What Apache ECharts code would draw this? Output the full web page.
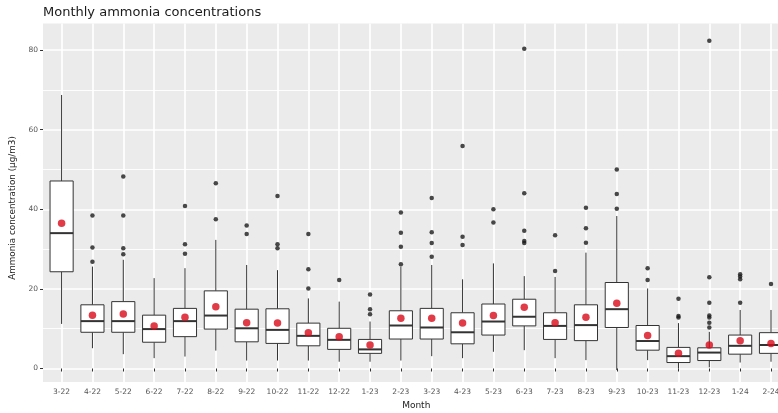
<!DOCTYPE html>
<html>
<head>
<meta charset="utf-8">
<script src="https://cdn.jsdelivr.net/npm/echarts@6/dist/echarts.min.js"></script>
<style>html,body{margin:0;padding:0;background:#fff}#c{width:778px;height:413px}</style>
</head>
<body>
<div id="c"></div>
<script>
const chartTitle = 'Monthly ammonia concentrations';
const xTitle = 'Month';
const yTitle = 'Ammonia concentration (µg/m3)';
const months = ['3-22','4-22','5-22','6-22','7-22','8-22','9-22','10-22','11-22','12-22','1-23','2-23','3-23','4-23','5-23','6-23','7-23','8-23','9-23','10-23','11-23','12-23','1-24','2-24'];
const whiskerLow  = [11.2, 5.1, 3.6, 2.6, 3.0, 4.5, 2.0, 2.0, 2.0, 1.7, 1.7, 2.0, 3.1, 2.6, 4.2, 4.6, 2.6, 2.1, -0.4, 2.1, 0.0, 0.3, 1.5, 1.7];
const q1          = [24.3, 9.1, 9.1, 6.6, 8.0, 9.9, 6.7, 6.3, 5.7, 4.8, 3.8, 7.4, 7.4, 6.2, 8.4, 10.7, 7.3, 7.0, 10.3, 4.6, 1.5, 2.0, 3.6, 3.8];
const median      = [34.0, 11.9, 11.9, 9.9, 11.9, 13.3, 10.1, 9.7, 8.2, 7.2, 4.8, 10.8, 10.3, 9.1, 11.8, 13.0, 10.7, 10.9, 14.9, 6.9, 3.1, 4.0, 5.7, 5.9];
const q3          = [47.1, 16.0, 16.8, 13.4, 15.1, 19.5, 14.9, 15.0, 11.4, 10.1, 7.3, 14.5, 15.1, 14.0, 16.2, 17.4, 14.0, 16.0, 21.6, 10.8, 5.3, 5.2, 8.4, 9.0];
const whiskerHigh = [68.7, 25.6, 27.3, 22.7, 25.2, 32.3, 26.0, 24.7, 17.6, 16.8, 11.8, 25.6, 26.0, 22.4, 26.4, 23.2, 23.0, 29.1, 38.3, 20.1, 11.4, 9.2, 14.7, 14.7];
const means       = [36.5, 13.4, 13.7, 10.7, 12.9, 15.5, 11.5, 11.4, 9.0, 8.0, 5.9, 12.6, 12.6, 11.4, 13.3, 15.4, 11.5, 12.9, 16.4, 8.3, 3.8, 5.9, 7.0, 6.3];
const outliers = [
  [],
  [38.4, 30.4, 26.8],
  [48.2, 38.4, 30.2, 28.7],
  [],
  [40.8, 31.2, 28.8],
  [46.5, 37.5],
  [35.9, 33.8],
  [43.3, 31.2, 30.2],
  [33.8, 24.9, 20.1],
  [22.2],
  [18.6, 14.9, 13.6],
  [39.2, 34.1, 30.6, 26.2],
  [42.8, 34.2, 31.5, 28.1],
  [55.9, 33.1, 31.0],
  [40.0, 36.7],
  [80.3, 44.0, 34.6, 32.0, 31.5],
  [33.5, 24.5],
  [40.4, 35.2, 31.6],
  [50.0, 43.8, 40.1],
  [25.2, 22.2],
  [17.5, 13.2, 12.8],
  [82.3, 22.9, 16.5, 13.3, 12.8, 11.5, 10.3],
  [23.7, 23.1, 22.4, 16.5],
  [21.2]
];
const yTicksMax = 80, yTickStep = 20;

// layout (pixels)
const panelLeft = 43, panelRight = 789.5, panelTop = 23.5, panelBottom = 382;
const y80 = 50, y0 = 368.5;
const firstCat = 61.6, lastCat = 771;
const pxPerUnit = (y0 - y80) / yTicksMax;
const yMinPanel = -(panelBottom - y0) / pxPerUnit;
const yMaxPanel = yTicksMax + (y80 - panelTop) / pxPerUnit;

const boxData = months.map((m, i) => [i, whiskerLow[i], q1[i], median[i], q3[i], whiskerHigh[i]]);
const outlierData = [];
outliers.forEach((arr, i) => arr.forEach(v => outlierData.push([i, v])));
const meanData = means.map((v, i) => [i, v]);

const lineCol = '#333333';
function renderBox(params, api) {
  const i = api.value(0);
  const c = api.coord([i, api.value(3)]);
  const pLo = api.coord([i, api.value(1)]);
  const pQ1 = api.coord([i, api.value(2)]);
  const pQ3 = api.coord([i, api.value(4)]);
  const pHi = api.coord([i, api.value(5)]);
  const half = api.size([1, 0])[0] * 0.75 / 2;
  const x = c[0];
  return {
    type: 'group',
    children: [
      {type: 'line', shape: {x1: x, y1: pHi[1], x2: x, y2: pQ3[1]}, style: {stroke: lineCol, lineWidth: 1}},
      {type: 'line', shape: {x1: x, y1: pQ1[1], x2: x, y2: pLo[1]}, style: {stroke: lineCol, lineWidth: 1}},
      {type: 'rect', shape: {x: x - half, y: pQ3[1], width: half * 2, height: pQ1[1] - pQ3[1]}, style: {fill: '#ffffff', stroke: lineCol, lineWidth: 1}},
      {type: 'line', shape: {x1: x - half, y1: c[1], x2: x + half, y2: c[1]}, style: {stroke: lineCol, lineWidth: 2}}
    ]
  };
}

const font = 'DejaVu Sans';
const chart = echarts.init(document.getElementById('c'), null, {renderer: 'canvas'});
chart.setOption({
  animation: false,
  textStyle: {fontFamily: font},
  grid: [
    {left: panelLeft, top: panelTop, width: panelRight - panelLeft, height: panelBottom - panelTop, show: true, backgroundColor: '#EBEBEB', borderWidth: 0, containLabel: false, outerBoundsMode: 'none'},
    {left: panelLeft, top: y80, width: panelRight - panelLeft, height: y0 - y80, containLabel: false, outerBoundsMode: 'none'},
    {left: firstCat, top: panelTop, width: lastCat - firstCat, height: panelBottom - panelTop, containLabel: false, outerBoundsMode: 'none'}
  ],
  xAxis: [
    {gridIndex: 0, type: 'value', show: false},
    {gridIndex: 1, type: 'value', show: false},
    {gridIndex: 2, type: 'category', data: months, boundaryGap: false,
      axisLine: {show: false},
      axisTick: {show: true, interval: 0, length: 3, lineStyle: {color: lineCol, width: 1}},
      axisLabel: {interval: 0, fontSize: 7.5, color: '#555555', margin: 6, fontFamily: font},
      splitLine: {show: true, interval: 0, lineStyle: {color: '#ffffff', width: 1.7}}}
  ],
  yAxis: [
    {gridIndex: 0, type: 'value', show: false},
    {gridIndex: 1, type: 'value', min: 0, max: yTicksMax, interval: yTickStep,
      axisLine: {show: false},
      axisTick: {show: true, length: 3, lineStyle: {color: lineCol, width: 1}},
      axisLabel: {fontSize: 7.5, color: '#555555', margin: 5, fontFamily: font},
      splitLine: {show: true, lineStyle: {color: '#ffffff', width: 1.7}},
      minorTick: {show: false, splitNumber: 2},
      minorSplitLine: {show: true, lineStyle: {color: '#ffffff', width: 0.9}}},
    {gridIndex: 2, type: 'value', min: yMinPanel, max: yMaxPanel, show: false, splitLine: {show: false}}
  ],
  series: [
    {type: 'custom', xAxisIndex: 2, yAxisIndex: 2, data: boxData, encode: {x: 0, y: [1, 2, 3, 4, 5]}, renderItem: renderBox, clip: false, z: 2},
    {type: 'scatter', xAxisIndex: 2, yAxisIndex: 2, data: outlierData, symbol: 'circle', symbolSize: 4.5, itemStyle: {color: '#1a1a1a'}, z: 3},
    {type: 'scatter', xAxisIndex: 2, yAxisIndex: 2, data: meanData, symbol: 'circle', symbolSize: 7.5, itemStyle: {color: '#DA0A1A'}, z: 4}
  ],
  graphic: [
    {type: 'text', x: panelLeft, y: 13, style: {text: chartTitle, fontFamily: font, fontSize: 13, fill: '#1a1a1a', textVerticalAlign: 'middle'}},
    {type: 'text', x: 13, y: 208, rotation: Math.PI / 2, style: {text: yTitle, fontFamily: font, fontSize: 8.8, fill: '#222222', textAlign: 'center', textVerticalAlign: 'middle'}},
    {type: 'text', x: (panelLeft + panelRight) / 2, y: 406, style: {text: xTitle, fontFamily: font, fontSize: 9, fill: '#222222', textAlign: 'center', textVerticalAlign: 'middle'}}
  ]
});
</script>
</body>
</html>
